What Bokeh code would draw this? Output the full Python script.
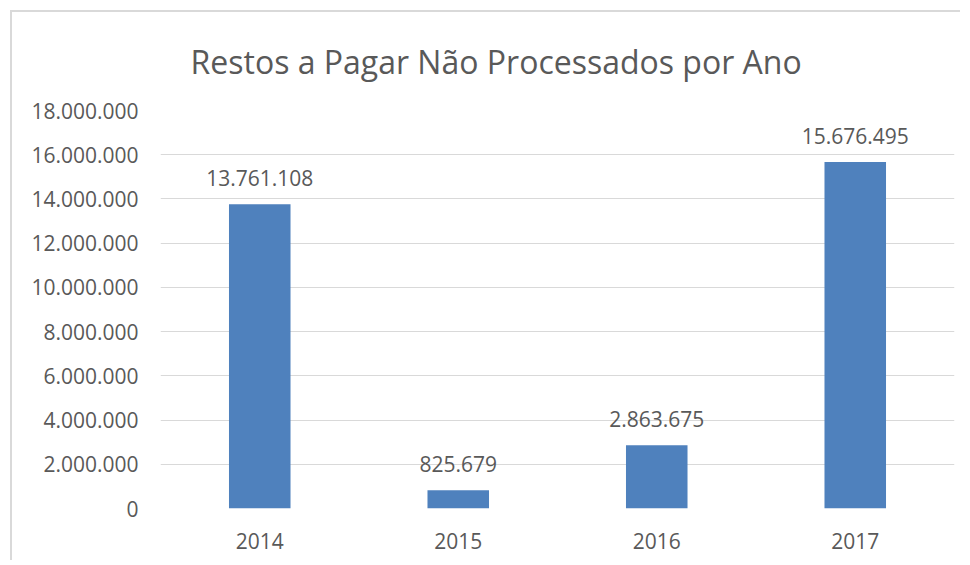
from bokeh.plotting import figure
from bokeh.models import FactorRange, Range1d, FixedTicker, ColumnDataSource, LabelSet
from bokeh.core.properties import value
from bokeh.embed import file_html
from bokeh.resources import INLINE

years = ["2014", "2015", "2016", "2017"]
amounts = [13761108, 825679, 2863675, 15676495]
y_ticks = [0, 2000000, 4000000, 6000000, 8000000, 10000000, 12000000, 14000000, 16000000, 18000000]
y_tick_labels = ["0", "2.000.000", "4.000.000", "6.000.000", "8.000.000", "10.000.000",
                 "12.000.000", "14.000.000", "16.000.000", "18.000.000"]
title_text = "Restos a Pagar Não Processados por Ano"

FONT = "Open Sans"
TXT = "#595959"

labels = [f"{v:,}".replace(",", ".") for v in amounts]
src = ColumnDataSource(dict(year=years, amount=amounts, label=labels))

W, H = 950, 550
p = figure(width=W, height=H, x_range=FactorRange(factors=years, range_padding=0),
           y_range=Range1d(0, 18000000), output_backend="svg", toolbar_location=None,
           min_border_left=148, min_border_right=W - 942, min_border_top=98,
           min_border_bottom=H - 496)
p.styles = {"border-left": "2px solid #d9d9d9", "border-top": "2px solid #d9d9d9",
            "margin-left": "10px", "margin-top": "10px"}

p.vbar(x="year", top="amount", width=0.31, source=src, fill_color="#4f81bd",
       line_color="#4f81bd", line_width=0)

p.add_layout(LabelSet(x="year", y="amount", text="label", source=src, y_offset=18,
                      text_align="center", text_baseline="alphabetic",
                      text_font=value(FONT), text_font_size="21px", text_color=TXT))

p.title.text = title_text
p.title.align = "left"
p.title.vertical_align = "top"
p.title.offset = 30
p.title.standoff = 52
p.title.text_font = FONT
p.title.text_font_size = "32px"
p.title.text_font_style = "normal"
p.title.text_color = TXT

p.outline_line_color = None
p.xgrid.grid_line_color = None
p.ygrid.grid_line_color = "#d9d9d9"
p.ygrid.grid_line_width = 1

p.yaxis.ticker = FixedTicker(ticks=y_ticks)
p.yaxis.major_label_overrides = {t: l for t, l in zip(y_ticks, y_tick_labels)}
for ax in (p.xaxis, p.yaxis):
    ax.axis_line_color = None
    ax.major_tick_line_color = None
    ax.minor_tick_line_color = None
    ax.major_tick_in = 0
    ax.major_tick_out = 0
    ax.major_label_text_font = FONT
    ax.major_label_text_font_size = "21px"
    ax.major_label_text_color = TXT
p.yaxis.major_label_standoff = 22
p.xaxis.major_label_standoff = 24

open("out.html", "w").write(file_html(p, INLINE))
